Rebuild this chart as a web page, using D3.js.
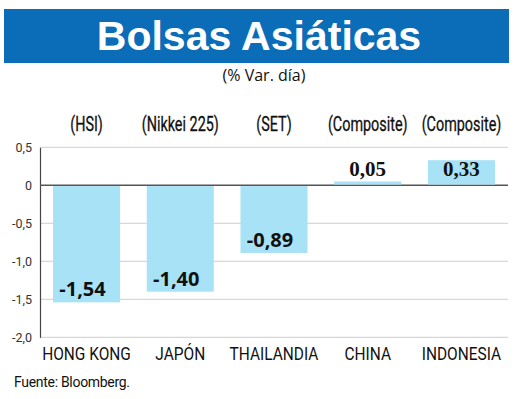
<!DOCTYPE html>
<html><head><meta charset="utf-8">
<script src="https://cdn.jsdelivr.net/npm/d3@7"></script>
<style>body{margin:0;background:#fff}svg{display:block}</style>
</head><body>
<script>
const categories = ["HONG KONG", "JAPÓN", "THAILANDIA", "CHINA", "INDONESIA"];
const indices = ["(HSI)", "(Nikkei 225)", "(SET)", "(Composite)", "(Composite)"];
const values = [-1.54, -1.40, -0.89, 0.05, 0.33];
const valueLabels = ["-1,54", "-1,40", "-0,89", "0,05", "0,33"];
const yTicks = [0.5, 0, -0.5, -1.0, -1.5, -2.0];
const yTickLabels = ["0,5", "0", "-0,5", "-1,0", "-1,5", "-2,0"];
const title = "Bolsas Asiáticas";
const subtitle = "(% Var. día)";
const source = "Fuente: Bloomberg.";

const W = 520, H = 399;
const svg = d3.select("body").append("svg").attr("width", W).attr("height", H);

// Title bar
svg.append("rect").attr("x", 4).attr("y", 9).attr("width", 505).attr("height", 54).attr("fill", "#0b6cb8");
svg.append("text").attr("x", 259).attr("y", 50).attr("text-anchor", "middle")
  .attr("font-family", "Liberation Sans, Arial, sans-serif").attr("font-weight", "bold")
  .attr("font-size", 41).attr("fill", "#fff").text(title);
svg.append("text").attr("x", 264).attr("y", 81).attr("text-anchor", "middle")
  .attr("font-family", "Open Sans, sans-serif").attr("font-size", 16).attr("fill", "#111").text(subtitle);

const x = d3.scaleBand().domain(categories).range([40, 508]).paddingInner(0.285).paddingOuter(0.139);
const y = d3.scaleLinear().domain([-2.0, 0.5]).range([337.3, 147.3]);

// gridlines
svg.append("g").selectAll("line").data(yTicks.filter(t => t !== 0)).join("line")
  .attr("x1", 40).attr("x2", 508).attr("y1", d => y(d)).attr("y2", d => y(d))
  .attr("stroke", "#d8d8d8").attr("stroke-width", 1.2);

// y axis
const yAxis = d3.axisLeft(y).tickValues(yTicks).tickSize(0).tickPadding(8)
  .tickFormat((d, i) => yTickLabels[i]);
const gy = svg.append("g").attr("transform", "translate(40,0)").call(yAxis);
gy.select(".domain").attr("stroke", "#444").attr("stroke-width", 1.2);
gy.selectAll("text").attr("font-family", "Roboto, sans-serif").attr("font-size", 12.5).attr("fill", "#333");

// zero line
svg.append("line").attr("x1", 40).attr("x2", 508).attr("y1", y(0)).attr("y2", y(0))
  .attr("stroke", "#555").attr("stroke-width", 1.5);

// bars
svg.append("g").selectAll("rect").data(values).join("rect")
  .attr("x", (d, i) => x(categories[i])).attr("width", x.bandwidth())
  .attr("y", d => y(Math.max(0, d)) + (d < 0 ? 0.8 : 0))
  .attr("height", d => Math.abs(y(d) - y(0)) - 0.8)
  .attr("fill", "#a8e2f6");

// value labels
svg.append("g").selectAll("text").data(values).join("text")
  .attr("x", (d, i) => x(categories[i]) + x.bandwidth() / 2 - (d < 0 ? 4 : 0))
  .attr("y", d => d < 0 ? y(d) - 6 : y(0) - 9)
  .attr("text-anchor", "middle")
  .attr("font-family", d => d < 0 ? "Open Sans, sans-serif" : "Liberation Serif, serif")
  .attr("font-weight", "bold")
  .attr("font-size", d => d < 0 ? 20 : 21)
  .attr("fill", "#111")
  .text((d, i) => valueLabels[i]);

// index labels
svg.append("g").selectAll("text").data(indices).join("text")
  .attr("transform", (d, i) => `translate(${x(categories[i]) + x.bandwidth() / 2},131) scale(0.72,1)`)
  .attr("text-anchor", "middle")
  .attr("font-family", "Roboto, sans-serif").attr("font-size", 20).attr("fill", "#111")
  .attr("stroke", "#111").attr("stroke-width", 0.3)
  .text(d => d);

// category labels
svg.append("g").selectAll("text").data(categories).join("text")
  .attr("transform", d => `translate(${x(d) + x.bandwidth() / 2},360) scale(0.86,1)`)
  .attr("text-anchor", "middle")
  .attr("font-family", "Roboto, sans-serif").attr("font-size", 18).attr("fill", "#111")
  .text(d => d);

// source
svg.append("text").attr("x", 14).attr("y", 387)
  .attr("font-family", "Roboto, sans-serif").attr("font-size", 14).attr("letter-spacing", -0.3)
  .attr("fill", "#111").text(source);
</script>
</body></html>
